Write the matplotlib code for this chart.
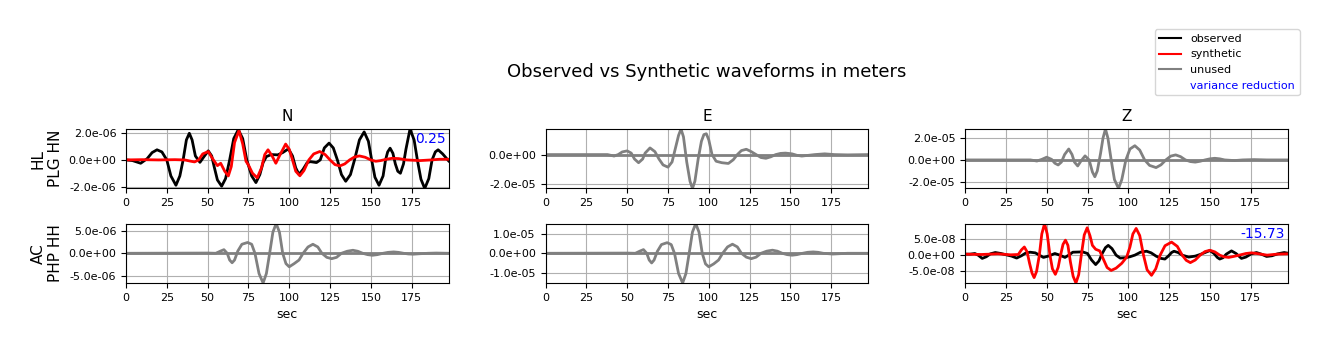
import numpy as np
import matplotlib
matplotlib.use("Agg")
import matplotlib.pyplot as plt
from matplotlib.lines import Line2D
from matplotlib.ticker import MultipleLocator, FormatStrFormatter

# HL PLG HN, componente N (observado y sintetico), unidades 1e-6 m
t_plg_obs = [0, 4, 9, 13, 16, 19, 22, 25, 27.5, 30.6, 33, 35, 37, 38.8, 40.5, 42.5, 45.3, 47.5,
             50.4, 52.5, 54, 56, 58.6, 61, 63.5, 66, 68.8, 71.5, 74, 77, 79.6, 82, 84, 86, 89, 93,
             96, 99.5, 102, 104, 106, 108.5, 111, 113, 116.7, 119, 121.5, 124.4, 127, 129.5, 132,
             134.6, 137.5, 140, 143, 145.9, 148.5, 150.5, 152.5, 155, 157.5, 159, 160.3, 161.8,
             163.5, 165, 166.5, 168.1, 170, 171.5, 174, 176.5, 178.5, 180.7, 183, 185.5, 187.5,
             189.5, 191.2, 194, 197.7]
v_plg_obs = [0.0, -0.05, -0.25, 0.1, 0.55, 0.76, 0.6, 0.0, -1.2, -1.9, -1.2, 0.0, 1.5, 2.0, 1.5,
             0.3, -0.18, 0.2, 0.68, 0.3, -0.5, -1.5, -1.97, -1.4, 0.0, 1.6, 2.27, 1.6, 0.0, -1.2,
             -1.7, -1.1, -0.2, 0.25, 0.4, 0.38, 0.55, 0.83, 0.3, -0.6, -1.09, -0.7, -0.2, -0.13,
             -0.2, 0.0, 0.9, 1.26, 0.9, 0.0, -1.1, -1.6, -1.1, 0.0, 1.5, 2.1, 1.4, 0.0, -1.3, -1.9,
             -1.2, 0.0, 0.6, 0.88, 0.5, -0.3, -0.85, -1.0, -0.3, 0.8, 2.32, 1.5, 0.0, -1.45, -2.14,
             -1.4, 0.0, 0.6, 0.76, 0.45, -0.08]
t_plg_syn = [0, 10, 20, 30, 36, 39, 42, 44.5, 47, 50.4, 53, 56, 58, 60.5, 62.7, 64.5, 66.5, 69.2,
             71.5, 73.5, 75, 77.5, 80.4, 83, 85, 87, 89.5, 91.8, 94, 97.8, 100, 102, 104, 106.5,
             109, 112, 115, 118.7, 122, 125, 128, 131, 134, 137, 140, 143, 146.5, 150, 153, 156,
             159.5, 163, 167, 172, 180, 187, 192, 197.7]
v_plg_syn = [0.0, 0.02, 0.0, 0.02, 0.0, -0.08, -0.15, 0.0, 0.45, 0.63, 0.1, -0.43, -0.25, -0.85,
             -1.2, -0.5, 1.3, 2.2, 1.2, -0.1, -0.38, -1.0, -1.34, -0.6, 0.4, 0.76, 0.3, -0.25, 0.3,
             1.19, 0.8, 0.0, -0.85, -1.19, -0.8, 0.0, 0.45, 0.63, 0.4, 0.0, -0.35, -0.45, -0.3,
             0.0, 0.22, 0.3, 0.2, 0.0, -0.1, -0.05, 0.05, 0.12, 0.1, 0.0, -0.05, 0.0, 0.05, 0.05]

# HL PLG HN, componente E (no usado), unidades 1e-5 m
t_plg_e = [0, 38, 42, 44.5, 47, 50, 52.5, 54.5, 57, 59.5, 61, 64, 67, 69.5, 72, 75, 77.5, 79.5,
           81.5, 83, 84.5, 86.5, 88.5, 90, 91.5, 93.5, 95.5, 97, 98.5, 100, 102, 104.5, 108, 112,
           115, 117.5, 120, 123, 126, 129, 132, 135, 138, 141, 144, 147, 151, 154, 157, 161, 165,
           171, 177, 185, 197.7]
v_plg_e = [0, 0, -0.1, 0.0, 0.18, 0.25, 0.1, -0.3, -0.55, -0.3, 0.1, 0.45, 0.2, -0.3, -0.7,
           -0.85, -0.5, 0.4, 1.3, 1.73, 1.2, -0.5, -1.8, -2.29, -1.8, -0.3, 0.9, 1.35, 1.41, 1.0,
           0.0, -0.45, -0.55, -0.6, -0.35, 0.0, 0.27, 0.36, 0.2, 0.0, -0.2, -0.25, -0.15, 0.0,
           0.08, 0.1, 0.05, -0.05, -0.1, -0.05, 0.0, 0.05, 0.0, -0.02, 0.0]

# HL PLG HN, componente Z (no usado), unidades 1e-5 m
t_plg_z = [0, 40, 44, 47, 50, 53, 55, 57, 59, 61, 63.5, 65.5, 67, 69, 71, 73.5, 76, 78, 79.5, 81,
           83, 84.5, 86, 87.5, 89.5, 91.5, 94, 96, 98.5, 101, 104, 107, 110, 113, 117, 120, 123,
           126, 129, 132, 135, 138, 141, 144, 147, 150, 153, 156, 159, 165, 170, 177, 185, 197.7]
v_plg_z = [0, 0, -0.1, 0.05, 0.25, 0.05, -0.3, -0.46, -0.2, 0.5, 1.0, 0.5, -0.2, -0.55, -0.1,
           0.37, 0.0, -1.1, -1.54, -1.0, 0.6, 2.0, 2.83, 2.0, 0.0, -1.8, -2.61, -1.8, 0.0, 1.0,
           1.3, 0.9, 0.0, -0.5, -0.7, -0.45, 0.0, 0.35, 0.46, 0.3, 0.0, -0.15, -0.2, -0.12, 0.0,
           0.1, 0.15, 0.1, 0.0, -0.06, 0.0, 0.03, 0.0, 0.0]

# AC PHP HH, componente N (no usado), unidades 1e-6 m
t_php_n = [0, 50, 55, 58, 60, 62, 63.5, 65, 66.5, 68.5, 71, 74.5, 77, 79, 81.5, 84, 86, 88, 90,
           92, 94, 96, 98, 100, 103, 106, 108.5, 111.5, 114.5, 117.5, 120, 123, 126, 129, 132,
           135.5, 139, 142, 145, 148, 151, 154, 157.5, 160.5, 164, 167, 170, 173, 176, 180, 185,
           190, 197.7]
v_php_n = [0, 0.05, 0.0, 0.5, 0.8, 0.0, -1.5, -2.1, -1.5, 0.5, 2.0, 2.4, 2.0, 0.0, -4.5, -6.6,
           -4.5, 0.0, 4.7, 6.6, 4.7, 0.0, -2.3, -3.0, -2.3, -1.5, 0.0, 1.4, 2.0, 1.4, 0.0, -0.9,
           -1.2, -0.9, 0.0, 0.45, 0.67, 0.45, 0.0, -0.3, -0.44, -0.3, 0.0, 0.2, 0.3, 0.2, 0.0,
           -0.15, -0.2, -0.1, 0.0, 0.05, 0.0]

# AC PHP HH, componente E (no usado), unidades 1e-5 m
t_php_e = [0, 50, 55, 58, 60, 62, 63.5, 65, 66.5, 68.5, 71, 74.5, 77, 79, 81.5, 84, 86, 88, 90,
           92, 94, 96, 98, 100, 103, 106, 108.5, 111.5, 114.5, 117.5, 120, 123, 126, 129, 132,
           135.5, 139, 142, 145, 148, 151, 154, 157.5, 160.5, 164, 167, 170, 176, 185, 197.7]
v_php_e = [0, 0.01, 0.0, 0.12, 0.19, 0.0, -0.35, -0.5, -0.35, 0.1, 0.45, 0.55, 0.45, 0.0, -1.05,
           -1.54, -1.05, 0.0, 1.1, 1.54, 1.1, 0.0, -0.55, -0.7, -0.55, -0.35, 0.0, 0.33, 0.47,
           0.33, 0.0, -0.2, -0.28, -0.2, 0.0, 0.11, 0.16, 0.11, 0.0, -0.07, -0.1, -0.07, 0.0,
           0.05, 0.07, 0.05, 0.0, -0.04, 0.0, 0.0]

# AC PHP HH, componente Z (observado y sintetico), unidades 1e-8 m
t_php_obs = [0, 3, 6, 8, 10.5, 13, 15.5, 18.5, 22, 26, 28.5, 31.6, 34.5, 37, 39.8, 43, 45.5, 48,
             51, 55, 58, 61.2, 63.5, 66, 72, 75, 77.5, 80, 82, 84, 86, 87.7, 90, 92.5, 95, 98,
             101, 104, 107.5, 111.2, 114, 117, 120, 122.4, 124.5, 126.5, 128, 130.5, 133, 137,
             141, 144, 147, 150, 152.5, 154.5, 156, 158, 160, 163.2, 166, 169.3, 172, 175, 178.5,
             181.5, 184.7, 188, 191.5, 195.5, 197.7]
v_php_obs = [0.3, 0.3, 0.5, 0.0, -1.0, -0.5, 0.4, 0.8, 0.5, 0.0, -0.3, -0.9, -0.2, 0.6, 0.9, 0.7,
             0.0, -0.7, -0.3, 0.5, 0.0, -0.7, 0.0, 0.9, 1.0, 0.5, -1.5, -2.9, -1.8, 0.5, 2.3, 3.0,
             2.0, 0.0, -0.9, -0.8, -0.5, 0.0, 0.9, 1.2, 0.7, -0.3, -1.0, -1.2, -0.3, 0.8, 1.2, 0.8,
             0.0, -0.6, -0.3, 0.2, 0.8, 1.4, 0.5, -0.7, -1.2, -0.8, 0.3, 1.3, 0.5, -1.0, -0.6, 0.3,
             0.8, 0.3, -0.4, -0.2, 0.4, 0.8, 0.6]
t_php_syn = [0, 10, 20, 28, 32.6, 34.5, 36.3, 38, 39.5, 41, 42.3, 43.8, 45.5, 47, 48.7, 50.3, 52,
             53.5, 55.3, 57, 58.5, 60, 61.5, 63, 64.5, 66.2, 67.9, 69.6, 71.2, 73, 74.8, 76.5,
             78, 80, 82.5, 84.5, 87, 89.5, 92.5, 96, 99, 101, 102.8, 104.8, 107, 109.3, 111.5,
             114.2, 116.8, 119.5, 122.5, 126.5, 130, 133, 135.5, 138, 141, 144, 147, 150, 153,
             156, 158.5, 161.5, 164.5, 168, 172, 175.5, 180, 185, 191, 197.7]
v_php_syn = [0.3, 0.2, 0.4, 0.1, 0.2, 1.6, 2.5, 1.0, -2.5, -5.5, -6.9, -5.0, 0.0, 6.5, 9.7, 6.5,
             0.0, -4.2, -5.9, -3.8, 0.0, 3.3, 4.6, 3.0, -2.0, -6.5, -8.56, -6.0, 0.0, 6.2, 8.4,
             6.0, 3.0, 1.8, 1.3, -1.0, -3.8, -4.7, -4.0, -2.5, -0.6, 2.5, 6.5, 8.2, 6.0, 0.0,
             -4.5, -6.2, -4.2, 0.0, 2.9, 4.0, 2.7, 0.0, -1.6, -2.3, -1.5, 0.0, 1.1, 1.5, 1.0, 0.0,
             -0.5, -0.7, -0.4, 0.0, 0.5, 0.7, 0.4, 0.0, 0.3, 0.4]

# sintetico de los canales no usados (plano)
t_flat = [0, 197.7]
v_flat = [0.0, 0.0]

estaciones = ["HL\nPLG HN", "AC\nPHP HH"]
componentes = ["N", "E", "Z"]
reduccion_varianza = {(0, 0): "0.25", (1, 2): "-15.73"}

fig, axs = plt.subplots(2, 3, figsize=(13.29, 3.51), dpi=100)
fig.subplots_adjust(left=0.0948, right=0.969, top=0.6325, bottom=0.1937, wspace=0.30, hspace=0.59)

# (fila, col): (lista de trazas, escala, paso de ticks)
paneles = {
    (0, 0): ([(t_plg_obs, v_plg_obs, "black"), (t_plg_syn, v_plg_syn, "red")], 1e-6, 2e-6),
    (0, 1): ([(t_plg_e, v_plg_e, "gray"), (t_flat, v_flat, "gray")], 1e-5, 2e-5),
    (0, 2): ([(t_plg_z, v_plg_z, "gray"), (t_flat, v_flat, "gray")], 1e-5, 2e-5),
    (1, 0): ([(t_php_n, v_php_n, "gray"), (t_flat, v_flat, "gray")], 1e-6, 5e-6),
    (1, 1): ([(t_php_e, v_php_e, "gray"), (t_flat, v_flat, "gray")], 1e-5, 1e-5),
    (1, 2): ([(t_php_obs, v_php_obs, "black"), (t_php_syn, v_php_syn, "red")], 1e-8, 5e-8),
}

for (i, j), (trazas, escala, paso) in paneles.items():
    ax = axs[i, j]
    vmin, vmax = 0, 0
    for t, v, c in trazas:
        y = np.array(v) * escala
        ax.plot(t, y, color=c, lw=2)
        vmin, vmax = min(vmin, y.min()), max(vmax, y.max())
    ax.set_xlim(0, 197.7)
    ax.set_ylim(vmin, vmax)
    ax.xaxis.set_major_locator(MultipleLocator(25))
    ax.yaxis.set_major_locator(MultipleLocator(paso))
    ax.yaxis.set_major_formatter(FormatStrFormatter("%.1e"))
    ax.tick_params(labelsize=8)
    ax.grid(True)
    if i == 0:
        ax.set_title(componentes[j], fontsize=11)
    else:
        ax.set_xlabel("sec", fontsize=9)
    if j == 0:
        ax.set_ylabel(estaciones[i], fontsize=11)
    if (i, j) in reduccion_varianza:
        ax.text(0.99, 0.83, reduccion_varianza[(i, j)], color="blue", fontsize=10,
                ha="right", va="center", transform=ax.transAxes)

fig.suptitle("Observed vs Synthetic waveforms in meters", fontsize=13, x=0.532, y=0.82)

handles = [Line2D([], [], color="black"), Line2D([], [], color="red"),
           Line2D([], [], color="gray"), Line2D([], [], color="none")]
leg = fig.legend(handles, ["observed", "synthetic", "unused", "variance reduction"],
                 loc="upper right", bbox_to_anchor=(0.982, 0.932), fontsize=8)
leg.get_texts()[3].set_color("blue")

fig.savefig("out.png", dpi=100)
